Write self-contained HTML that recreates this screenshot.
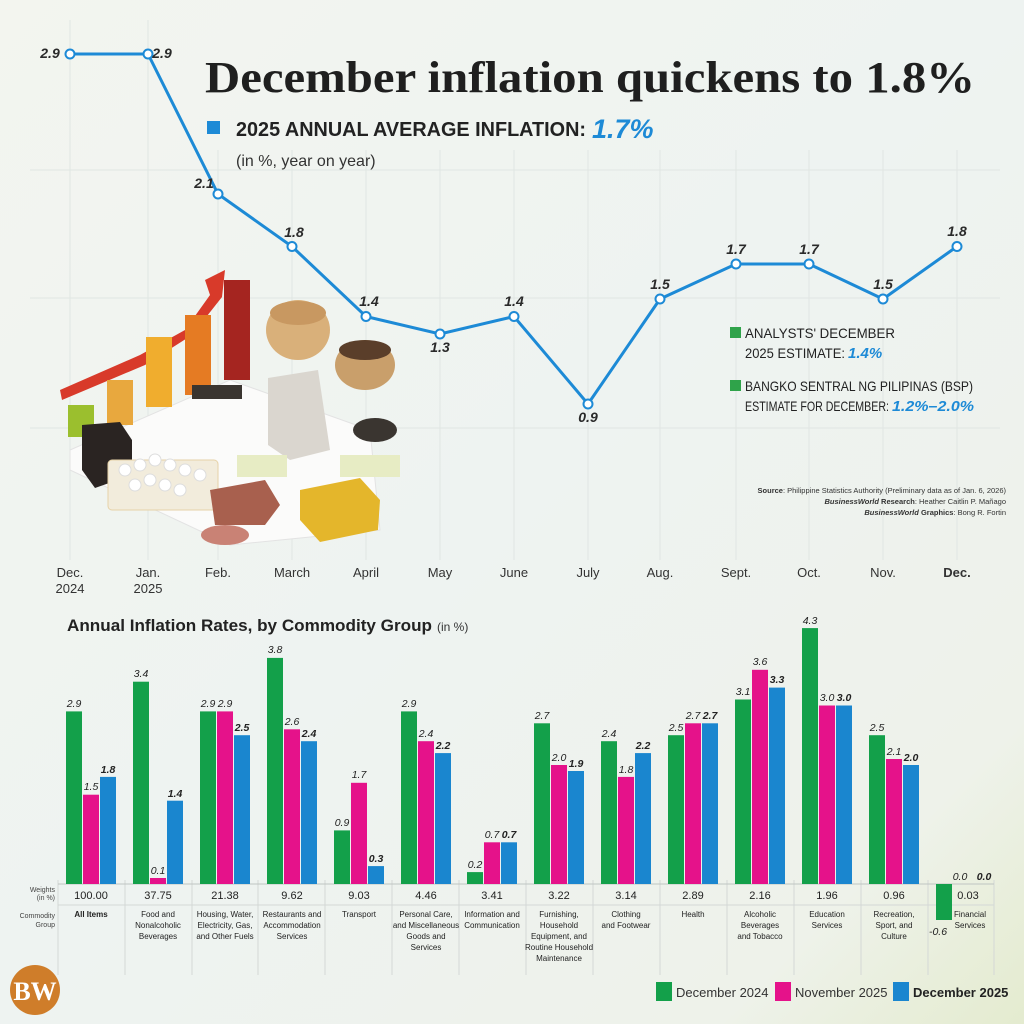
<!DOCTYPE html>
<html><head><meta charset="utf-8"><style>
html,body{margin:0;padding:0;width:1024px;height:1024px;overflow:hidden}
body{background:linear-gradient(135deg,#f3f5ef 0%,#eef3f1 50%,#eef2ea 85%,#e4ebcf 100%)}
svg{display:block;font-family:"Liberation Sans",sans-serif}
.serif{font-family:"Liberation Serif",serif}
</style></head><body>
<svg width="1024" height="1024" viewBox="0 0 1024 1024">
<!-- grid -->
<g stroke="#e0e6e3" stroke-width="1">
<line x1="30" y1="170" x2="1000" y2="170"/><line x1="30" y1="298" x2="1000" y2="298"/><line x1="30" y1="428" x2="1000" y2="428"/>
<line x1="70" y1="20" x2="70" y2="560"/><line x1="148" y1="20" x2="148" y2="560"/><line x1="218" y1="150" x2="218" y2="560"/><line x1="292" y1="150" x2="292" y2="560"/><line x1="366" y1="150" x2="366" y2="560"/><line x1="440" y1="150" x2="440" y2="560"/><line x1="514" y1="150" x2="514" y2="560"/><line x1="588" y1="150" x2="588" y2="560"/><line x1="660" y1="150" x2="660" y2="560"/><line x1="736" y1="150" x2="736" y2="560"/><line x1="809" y1="150" x2="809" y2="560"/><line x1="883" y1="150" x2="883" y2="560"/><line x1="957" y1="150" x2="957" y2="560"/>
</g>
<!-- illustration -->
<g>
<polygon points="70,450 230,380 370,430 380,530 230,545 70,470" fill="#fbfbfa" stroke="#e3e3e3"/>
<polygon points="60,390 140,355 185,330 210,295 205,280 225,270 222,297 192,335 145,365 62,400" fill="#d83a2a"/>
<rect x="68" y="405" width="26" height="32" fill="#9bbf2e"/>
<rect x="107" y="380" width="26" height="45" fill="#e8a83e"/>
<rect x="146" y="337" width="26" height="70" fill="#f0ad2e"/>
<rect x="185" y="315" width="26" height="80" fill="#e57b23"/>
<rect x="224" y="280" width="26" height="100" fill="#a52520"/>
<polygon points="82,425 120,422 132,440 132,475 95,488 82,470" fill="#2a2422"/>
<rect x="108" y="460" width="110" height="50" rx="4" fill="#f2ecdc" stroke="#e6d2a8"/>
<g fill="#ffffff" stroke="#dddddd"><circle cx="125" cy="470" r="6"/><circle cx="140" cy="465" r="6"/><circle cx="155" cy="460" r="6"/><circle cx="170" cy="465" r="6"/><circle cx="185" cy="470" r="6"/><circle cx="200" cy="475" r="6"/><circle cx="135" cy="485" r="6"/><circle cx="150" cy="480" r="6"/><circle cx="165" cy="485" r="6"/><circle cx="180" cy="490" r="6"/></g>
<ellipse cx="298" cy="330" rx="32" ry="30" fill="#d9b07a"/><ellipse cx="298" cy="313" rx="28" ry="12" fill="#c89861"/>
<ellipse cx="365" cy="365" rx="30" ry="25" fill="#c99f6b"/><ellipse cx="365" cy="350" rx="26" ry="10" fill="#5a3e2a"/>
<polygon points="268,378 318,370 330,450 290,460 268,445" fill="#dad6cf"/>
<rect x="192" y="385" width="50" height="14" fill="#3a3530"/>
<ellipse cx="375" cy="430" rx="22" ry="12" fill="#3a3530"/>
<rect x="340" y="455" width="60" height="22" fill="#e7ecc4"/>
<rect x="237" y="455" width="50" height="22" fill="#e7ecc4"/>
<polygon points="210,490 265,480 280,505 265,525 215,525" fill="#a8604e"/>
<ellipse cx="225" cy="535" rx="24" ry="10" fill="#c98275"/>
<polygon points="300,490 360,478 380,500 378,530 320,542 300,520" fill="#e4b62b"/>
</g>
<!-- line -->
<polyline fill="none" stroke="#1d8ad6" stroke-width="3" points="70,54 148,54 218,194 292,246.5 366,316.5 440,334 514,316.5 588,404 660,299 736,264 809,264 883,299 957,246.5"/>
<g fill="#fff" stroke="#1d8ad6" stroke-width="2">
<circle cx="70" cy="54" r="4.5"/><circle cx="148" cy="54" r="4.5"/><circle cx="218" cy="194" r="4.5"/><circle cx="292" cy="246.5" r="4.5"/><circle cx="366" cy="316.5" r="4.5"/><circle cx="440" cy="334" r="4.5"/><circle cx="514" cy="316.5" r="4.5"/><circle cx="588" cy="404" r="4.5"/><circle cx="660" cy="299" r="4.5"/><circle cx="736" cy="264" r="4.5"/><circle cx="809" cy="264" r="4.5"/><circle cx="883" cy="299" r="4.5"/><circle cx="957" cy="246.5" r="4.5"/>
</g>
<g font-size="14" font-style="italic" font-weight="bold" fill="#2a2a2a" text-anchor="middle">
<text x="50" y="58">2.9</text><text x="162" y="58">2.9</text><text x="204" y="188">2.1</text><text x="294" y="237">1.8</text><text x="369" y="306">1.4</text><text x="440" y="352">1.3</text><text x="514" y="306">1.4</text><text x="588" y="422">0.9</text><text x="660" y="289">1.5</text><text x="736" y="254">1.7</text><text x="809" y="254">1.7</text><text x="883" y="289">1.5</text><text x="957" y="236">1.8</text>
</g>
<!-- title -->
<text x="205" y="92" class="serif" style="font-family:'Liberation Serif',serif" font-weight="bold" font-size="44" fill="#1f1f1f" textLength="770" lengthAdjust="spacingAndGlyphs">December inflation quickens to 1.8%</text>
<rect x="207" y="121" width="13" height="13" fill="#1d8ad6"/>
<text x="236" y="136" font-size="20" font-weight="bold" fill="#222" textLength="350" lengthAdjust="spacingAndGlyphs">2025 ANNUAL AVERAGE INFLATION:</text>
<text x="592" y="138" font-size="27" font-weight="bold" font-style="italic" fill="#1d8ad6">1.7%</text>
<text x="236" y="166" font-size="16" fill="#333">(in %, year on year)</text>
<rect x="730" y="327" width="11" height="11" fill="#2fa34a"/>
<text x="745" y="338" font-size="14" fill="#222" textLength="150" lengthAdjust="spacingAndGlyphs">ANALYSTS' DECEMBER</text>
<text x="745" y="358" font-size="14" fill="#222" textLength="100" lengthAdjust="spacingAndGlyphs">2025 ESTIMATE:</text>
<text x="848" y="358" font-size="15" font-weight="bold" font-style="italic" fill="#1d8ad6">1.4%</text>
<rect x="730" y="380" width="11" height="11" fill="#2fa34a"/>
<text x="745" y="391" font-size="14" fill="#222" textLength="228" lengthAdjust="spacingAndGlyphs">BANGKO SENTRAL NG PILIPINAS (BSP)</text>
<text x="745" y="411" font-size="14" fill="#222" textLength="144" lengthAdjust="spacingAndGlyphs">ESTIMATE FOR DECEMBER:</text>
<text x="892" y="411" font-size="15" font-weight="bold" font-style="italic" fill="#1d8ad6" textLength="82" lengthAdjust="spacingAndGlyphs">1.2%–2.0%</text>
<g font-size="7.5" fill="#333" text-anchor="end">
<text x="1006" y="493"><tspan font-weight="bold">Source</tspan>: Philippine Statistics Authority (Preliminary data as of Jan. 6, 2026)</text>
<text x="1006" y="504"><tspan font-weight="bold" font-style="italic">BusinessWorld</tspan> <tspan font-weight="bold">Research</tspan>: Heather Caitlin P. Mañago</text>
<text x="1006" y="515"><tspan font-weight="bold" font-style="italic">BusinessWorld</tspan> <tspan font-weight="bold">Graphics</tspan>: Bong R. Fortin</text>
</g>
<g font-size="13" fill="#333" text-anchor="middle">
<text x="70" y="577">Dec.</text><text x="70" y="593">2024</text><text x="148" y="577">Jan.</text><text x="148" y="593">2025</text><text x="218" y="577">Feb.</text><text x="292" y="577">March</text><text x="366" y="577">April</text><text x="440" y="577">May</text><text x="514" y="577">June</text><text x="588" y="577">July</text><text x="660" y="577">Aug.</text><text x="736" y="577">Sept.</text><text x="809" y="577">Oct.</text><text x="883" y="577">Nov.</text><text x="957" y="577" font-weight="bold">Dec.</text>
</g>
<!-- bar chart -->
<text x="67" y="631" font-size="17" font-weight="bold" fill="#222" textLength="365" lengthAdjust="spacingAndGlyphs">Annual Inflation Rates, by Commodity Group</text>
<text x="437" y="631" font-size="12" fill="#333">(in %)</text>
<g stroke="#d4d8d6" stroke-width="1">
<line x1="58" y1="880" x2="58" y2="975"/><line x1="125" y1="880" x2="125" y2="975"/><line x1="192" y1="880" x2="192" y2="975"/><line x1="258" y1="880" x2="258" y2="975"/><line x1="325" y1="880" x2="325" y2="975"/><line x1="392" y1="880" x2="392" y2="975"/><line x1="459" y1="880" x2="459" y2="975"/><line x1="526" y1="880" x2="526" y2="975"/><line x1="593" y1="880" x2="593" y2="975"/><line x1="660" y1="880" x2="660" y2="975"/><line x1="727" y1="880" x2="727" y2="975"/><line x1="794" y1="880" x2="794" y2="975"/><line x1="861" y1="880" x2="861" y2="975"/><line x1="928" y1="880" x2="928" y2="975"/><line x1="994" y1="880" x2="994" y2="975"/>
<line x1="58" y1="884" x2="994" y2="884" stroke="#bfc5c2"/><line x1="58" y1="905" x2="994" y2="905"/>
</g>
<g fill="#13a04a">
<rect x="66" y="711.4" width="16" height="172.6"/><rect x="133" y="681.7" width="16" height="202.3"/><rect x="200" y="711.4" width="16" height="172.6"/><rect x="267" y="657.9" width="16" height="226.1"/><rect x="334" y="830.4" width="16" height="53.6"/><rect x="401" y="711.4" width="16" height="172.6"/><rect x="467" y="872.1" width="16" height="11.9"/><rect x="534" y="723.3" width="16" height="160.7"/><rect x="601" y="741.2" width="16" height="142.8"/><rect x="668" y="735.2" width="16" height="148.8"/><rect x="735" y="699.5" width="16" height="184.5"/><rect x="802" y="628.1" width="16" height="255.9"/><rect x="869" y="735.2" width="16" height="148.8"/><rect x="936" y="884" width="16" height="36"/>
</g>
<g fill="#e5128a">
<rect x="83" y="794.7" width="16" height="89.3"/><rect x="150" y="878" width="16" height="6"/><rect x="217" y="711.4" width="16" height="172.6"/><rect x="284" y="729.3" width="16" height="154.7"/><rect x="351" y="782.8" width="16" height="101.2"/><rect x="418" y="741.2" width="16" height="142.8"/><rect x="484" y="842.3" width="16" height="41.7"/><rect x="551" y="765" width="16" height="119"/><rect x="618" y="776.9" width="16" height="107.1"/><rect x="685" y="723.3" width="16" height="160.7"/><rect x="752" y="669.8" width="16" height="214.2"/><rect x="819" y="705.5" width="16" height="178.5"/><rect x="886" y="759" width="16" height="125"/>
</g>
<g fill="#1a86cf">
<rect x="100" y="776.9" width="16" height="107.1"/><rect x="167" y="800.7" width="16" height="83.3"/><rect x="234" y="735.2" width="16" height="148.8"/><rect x="301" y="741.2" width="16" height="142.8"/><rect x="368" y="866.1" width="16" height="17.9"/><rect x="435" y="753.1" width="16" height="130.9"/><rect x="501" y="842.3" width="16" height="41.7"/><rect x="568" y="771" width="16" height="113"/><rect x="635" y="753.1" width="16" height="130.9"/><rect x="702" y="723.3" width="16" height="160.7"/><rect x="769" y="687.6" width="16" height="196.4"/><rect x="836" y="705.5" width="16" height="178.5"/><rect x="903" y="765" width="16" height="119"/>
</g>
<g font-size="10.5" font-style="italic" fill="#222" text-anchor="middle">
<text x="74" y="707">2.9</text><text x="141" y="677">3.4</text><text x="208" y="707">2.9</text><text x="275" y="653">3.8</text><text x="342" y="826">0.9</text><text x="409" y="707">2.9</text><text x="475" y="868">0.2</text><text x="542" y="719">2.7</text><text x="609" y="737">2.4</text><text x="676" y="731">2.5</text><text x="743" y="695">3.1</text><text x="810" y="624">4.3</text><text x="877" y="731">2.5</text><text x="938" y="935">-0.6</text>
<text x="91" y="790">1.5</text><text x="158" y="874">0.1</text><text x="225" y="707">2.9</text><text x="292" y="725">2.6</text><text x="359" y="778">1.7</text><text x="426" y="737">2.4</text><text x="492" y="838">0.7</text><text x="559" y="761">2.0</text><text x="626" y="773">1.8</text><text x="693" y="719">2.7</text><text x="760" y="665">3.6</text><text x="827" y="701">3.0</text><text x="894" y="755">2.1</text><text x="960" y="880">0.0</text>
</g>
<g font-size="10.5" font-style="italic" font-weight="bold" fill="#222" text-anchor="middle">
<text x="108" y="773">1.8</text><text x="175" y="797">1.4</text><text x="242" y="731">2.5</text><text x="309" y="737">2.4</text><text x="376" y="862">0.3</text><text x="443" y="749">2.2</text><text x="509" y="838">0.7</text><text x="576" y="767">1.9</text><text x="643" y="749">2.2</text><text x="710" y="719">2.7</text><text x="777" y="683">3.3</text><text x="844" y="701">3.0</text><text x="911" y="761">2.0</text><text x="984" y="880">0.0</text>
</g>
<g font-size="7" fill="#444" text-anchor="end"><text x="55" y="892">Weights</text><text x="55" y="900">(in %)</text><text x="55" y="918">Commodity</text><text x="55" y="927">Group</text></g>
<g font-size="11" fill="#222" text-anchor="middle">
<text x="91" y="899">100.00</text><text x="158" y="899">37.75</text><text x="225" y="899">21.38</text><text x="292" y="899">9.62</text><text x="359" y="899">9.03</text><text x="426" y="899">4.46</text><text x="492" y="899">3.41</text><text x="559" y="899">3.22</text><text x="626" y="899">3.14</text><text x="693" y="899">2.89</text><text x="760" y="899">2.16</text><text x="827" y="899">1.96</text><text x="894" y="899">0.96</text><text x="968" y="899">0.03</text>
</g>
<g font-size="8" fill="#222" text-anchor="middle">
<text x="91" y="917" font-weight="bold">All Items</text>
<text x="158" y="917">Food and</text><text x="158" y="928">Nonalcoholic</text><text x="158" y="939">Beverages</text>
<text x="225" y="917">Housing, Water,</text><text x="225" y="928">Electricity, Gas,</text><text x="225" y="939">and Other Fuels</text>
<text x="292" y="917">Restaurants and</text><text x="292" y="928">Accommodation</text><text x="292" y="939">Services</text>
<text x="359" y="917">Transport</text>
<text x="426" y="917">Personal Care,</text><text x="426" y="928">and Miscellaneous</text><text x="426" y="939">Goods and</text><text x="426" y="950">Services</text>
<text x="492" y="917">Information and</text><text x="492" y="928">Communication</text>
<text x="559" y="917">Furnishing,</text><text x="559" y="928">Household</text><text x="559" y="939">Equipment, and</text><text x="559" y="950">Routine Household</text><text x="559" y="961">Maintenance</text>
<text x="626" y="917">Clothing</text><text x="626" y="928">and Footwear</text>
<text x="693" y="917">Health</text>
<text x="760" y="917">Alcoholic</text><text x="760" y="928">Beverages</text><text x="760" y="939">and Tobacco</text>
<text x="827" y="917">Education</text><text x="827" y="928">Services</text>
<text x="894" y="917">Recreation,</text><text x="894" y="928">Sport, and</text><text x="894" y="939">Culture</text>
<text x="970" y="917">Financial</text><text x="970" y="928">Services</text>
</g>
<!-- legend -->
<rect x="656" y="982" width="16" height="19" fill="#13a04a"/><text x="676" y="997" font-size="13" fill="#333">December 2024</text>
<rect x="775" y="982" width="16" height="19" fill="#e5128a"/><text x="795" y="997" font-size="13" fill="#333">November 2025</text>
<rect x="893" y="982" width="16" height="19" fill="#1a86cf"/><text x="913" y="997" font-size="13" font-weight="bold" fill="#222">December 2025</text>
<!-- logo -->
<circle cx="35" cy="990" r="25" fill="#cf7d2a"/>
<text x="35" y="1000" text-anchor="middle" style="font-family:'Liberation Serif',serif" font-weight="bold" font-size="26" fill="#fff">BW</text>
</svg>
</body></html>
